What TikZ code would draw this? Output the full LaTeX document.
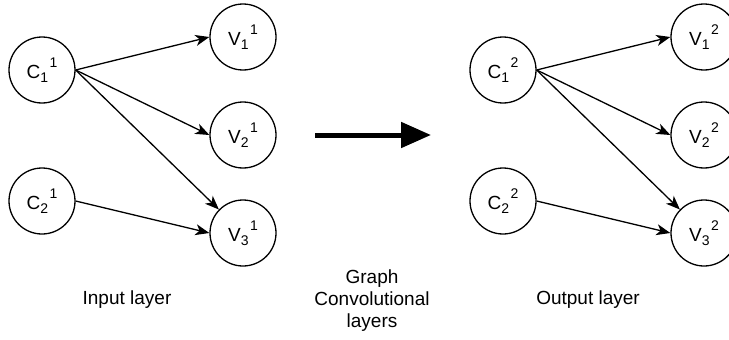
\documentclass[tikz,border=0pt]{standalone}
\usepackage{fontspec}
\setmainfont{Liberation Sans}
\usetikzlibrary{arrows.meta}
\newcommand\glab[3]{#1\raisebox{-4pt}{\fontsize{14}{14}\selectfont #2}\hspace{1.5pt}\raisebox{11pt}{\fontsize{14}{14}\selectfont #3}\hspace{8pt}}
\begin{document}
\begin{tikzpicture}[x=1pt,y=-1pt,
  gnode/.style={circle,draw,line width=1.3pt,minimum size=66pt,inner sep=0pt,font=\fontsize{19}{21}\selectfont},
  edge/.style={line width=1.3pt,-{Stealth[length=14pt,width=11pt,inset=4pt]}},
  caption/.style={font=\fontsize{19}{22}\selectfont,align=center}]
\useasboundingbox (0,0) rectangle (729,340);
% left graph
\node[gnode] (c11) at (42,70) {\glab{C}{1}{1}};
\node[gnode] (c21) at (42,201) {\glab{C}{2}{1}};
\node[gnode] (v11) at (243,37) {\glab{V}{1}{1}};
\node[gnode] (v21) at (243,135) {\glab{V}{2}{1}};
\node[gnode] (v31) at (243,233) {\glab{V}{3}{1}};
\draw[edge] (c11.east) -- (v11.west);
\draw[edge] (c11.east) -- (v21.west);
\draw[edge] (c11.east) -- (v31);
\draw[edge] (c21.east) -- (v31.west);
% right graph
\node[gnode] (c12) at (503,70) {\glab{C}{1}{2}};
\node[gnode] (c22) at (503,201) {\glab{C}{2}{2}};
\node[gnode] (v12) at (704,37) {\glab{V}{1}{2}};
\node[gnode] (v22) at (704,135) {\glab{V}{2}{2}};
\node[gnode] (v32) at (704,233) {\glab{V}{3}{2}};
\draw[edge] (c12.east) -- (v12.west);
\draw[edge] (c12.east) -- (v22.west);
\draw[edge] (c12.east) -- (v32);
\draw[edge] (c22.east) -- (v32.west);
% big arrow
\coordinate (a0) at (315,135);
\coordinate (a1) at (431,135);
\draw[line width=5pt,-{Triangle[length=30pt,width=25pt]}] (a0) -- (a1);
% captions
\node[caption] (inlab) at (127,300) {Input layer};
\node[caption] (outlab) at (588,300) {Output layer};
\node[caption] (gcl) at (372,301) {Graph\\Convolutional\\layers};
\end{tikzpicture}
\end{document}
